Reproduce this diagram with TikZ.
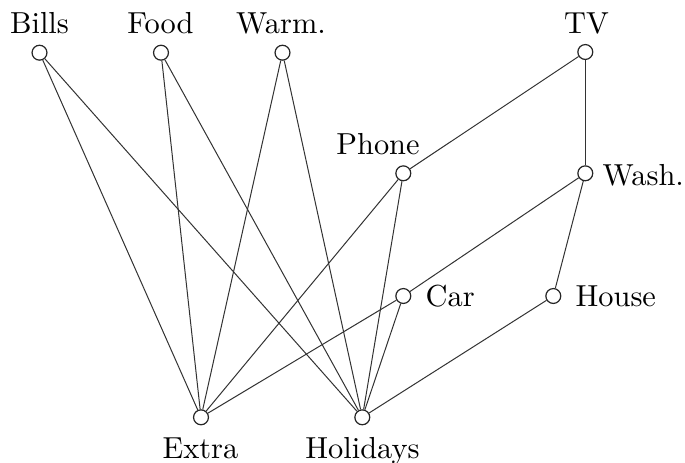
\documentclass[tikz,border=0pt]{standalone}
\begin{document}
\begin{tikzpicture}[x=0.329pt,y=-0.329pt]
\tikzset{
  vert/.style={circle,draw=black!85,inner sep=0pt,minimum size=4.9pt,line width=0.4pt,fill=white},
  lbl/.style={inner sep=0pt,anchor=base},
  lblr/.style={inner sep=0pt,anchor=base west},
  edge/.style={line width=0.33pt,draw=black!80}
}
\useasboundingbox (0,0) rectangle (685,462);

% vertices
\node[vert] (bills) at (39.5,52.7) {};
\node[vert] (food) at (161,52.7) {};
\node[vert] (warm) at (282.5,52.7) {};
\node[vert] (tv) at (585.3,52) {};
\node[vert] (phone) at (403.3,173.3) {};
\node[vert] (wash) at (585.3,173.3) {};
\node[vert] (car) at (403.3,296) {};
\node[vert] (house) at (553.3,296) {};
\node[vert] (extra) at (201,417.3) {};
\node[vert] (hol) at (362.3,417.3) {};

% labels
\node[lbl] (lbills) at (39.5,33) {Bills};
\node[lbl] (lfood) at (160.5,33) {Food};
\node[lbl] (lwarm) at (281,33) {Warm.};
\node[lbl] (ltv) at (586.5,33) {TV};
\node[lbl] (lphone) at (378,154) {Phone};
\node[lblr] (lwash) at (602,185) {Wash.};
\node[lblr] (lcar) at (425,306.7) {Car};
\node[lblr] (lhouse) at (575,306.7) {House};
\node[lbl] (lextra) at (200.5,458) {Extra};
\node[lbl] (lhol) at (362.5,458) {Holidays};

% edges
\draw[edge] (bills) -- (extra);
\draw[edge] (bills) -- (hol);
\draw[edge] (food) -- (extra);
\draw[edge] (food) -- (hol);
\draw[edge] (warm) -- (extra);
\draw[edge] (warm) -- (hol);
\draw[edge] (tv) -- (phone);
\draw[edge] (tv) -- (wash);
\draw[edge] (phone) -- (extra);
\draw[edge] (phone) -- (hol);
\draw[edge] (wash) -- (car);
\draw[edge] (wash) -- (house);
\draw[edge] (car) -- (extra);
\draw[edge] (car) -- (hol);
\draw[edge] (house) -- (hol);
\end{tikzpicture}
\end{document}
